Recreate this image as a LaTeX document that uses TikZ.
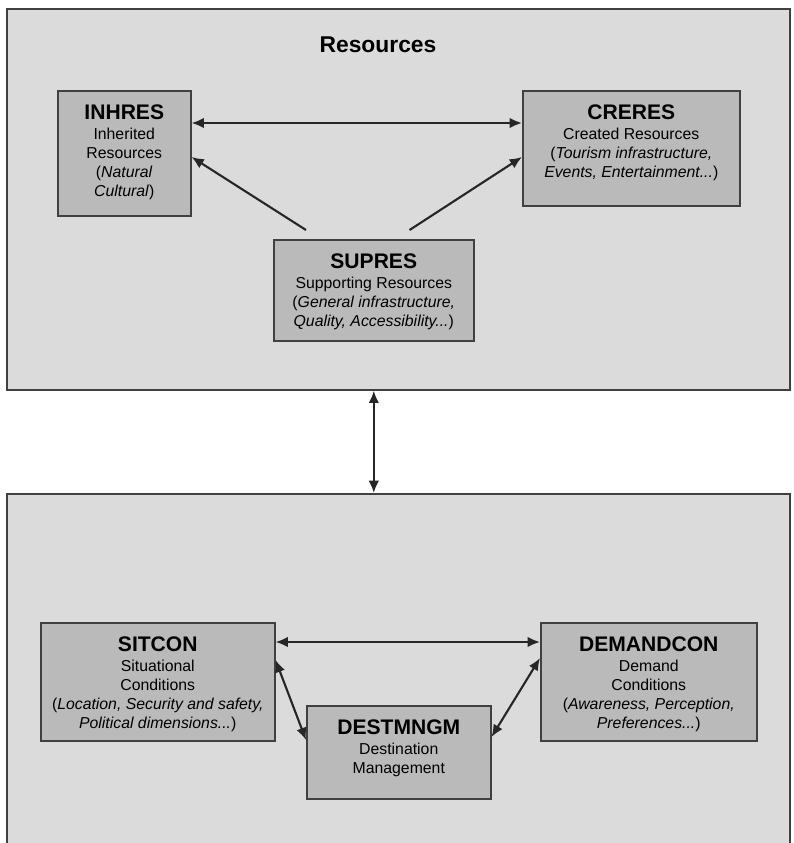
\documentclass[tikz,border=0pt]{standalone}
\usepackage{fontspec}
\setmainfont{Liberation Sans}
\usetikzlibrary{arrows.meta}
\usetikzlibrary{positioning}
\definecolor{panelgray}{gray}{0.86}
\definecolor{boxgray}{gray}{0.73}
\definecolor{edgegray}{gray}{0.25}
\tikzstyle{panel} = [rectangle, draw=edgegray, fill=panelgray, line width=1pt,
    anchor=north west, inner sep=0pt]
\tikzstyle{block} = [rectangle, draw=edgegray, fill=boxgray, line width=0.9pt,
    anchor=north west, inner sep=0pt]
\tikzstyle{line} = [draw, line width=1.2pt, black!85, -{Latex[length=7pt,width=6pt]}]
\tikzstyle{twoway} = [line, {Latex[length=7pt,width=6pt]}-{Latex[length=7pt,width=6pt]}]
% width, height, title, body
\newcommand{\blocktext}[4]{\parbox[c][#2][t]{#1}{\centering\vspace*{0.27cm}%
    {\fontsize{12}{14}\selectfont\bfseries #3\par}\vspace{1pt}%
    {\fontsize{9}{10.8}\selectfont #4\par}}}

\begin{document}
\begin{tikzpicture}[x=0.02cm,y=-0.02cm]
    \clip (0,0) rectangle (794,843);
    % Panels
    \node [panel, minimum width=15.66cm, minimum height=7.62cm] (res) at (6,8) {};
    \node [panel, minimum width=15.66cm, minimum height=8cm] (con) at (6,493) {};
    \node [font=\fontsize{13}{15}\selectfont\bfseries] (title) at (378,45) {Resources};
    % Place nodes
    \node [block] (inh) at (57,90) {\blocktext{2.66cm}{2.5cm}{INHRES}
        {Inherited\\Resources\\(\textit{Natural}\\\textit{Cultural})}};
    \node [block] (cre) at (522,90) {\blocktext{4.34cm}{2.3cm}{CRERES}
        {Created Resources\\(\textit{Tourism infrastructure,}\\\textit{Events, Entertainment...})}};
    \node [block] (sup) at (273,239) {\blocktext{4cm}{2.02cm}{SUPRES}
        {Supporting Resources\\(\textit{General infrastructure,}\\\textit{Quality, Accessibility...})}};
    \node [block] (sit) at (40,622) {\blocktext{4.68cm}{2.36cm}{SITCON}
        {Situational\\Conditions\\(\textit{Location, Security and safety,}\\\textit{Political dimensions...})}};
    \node [block] (dem) at (540,622) {\blocktext{4.32cm}{2.36cm}{DEMANDCON}
        {Demand\\Conditions\\(\textit{Awareness, Perception,}\\\textit{Preferences...})}};
    \node [block] (dst) at (306,705) {\blocktext{3.68cm}{1.86cm}{DESTMNGM}
        {Destination\\Management}};
    % Draw edges
    \path [twoway] ([yshift=-0.66cm]inh.north east) -- ([yshift=-0.66cm]cre.north west);
    \path [line] ([xshift=0.66cm,yshift=0.18cm]sup.north west) -- ([yshift=-1.34cm]inh.north east);
    \path [line] ([xshift=-1.3cm,yshift=0.18cm]sup.north east) -- ([yshift=-1.34cm]cre.north west);
    \path [twoway] ([xshift=-0.49cm]res.south) -- ([xshift=-0.49cm]con.north);
    \path [twoway] ([yshift=-0.4cm]sit.north east) -- ([yshift=-0.4cm]dem.north west);
    \path [twoway] ([yshift=-0.76cm]sit.north east) -- ([yshift=-0.7cm]dst.north west);
    \path [twoway] ([yshift=-0.64cm]dst.north east) -- ([yshift=-0.72cm]dem.north west);
\end{tikzpicture}
\end{document}
